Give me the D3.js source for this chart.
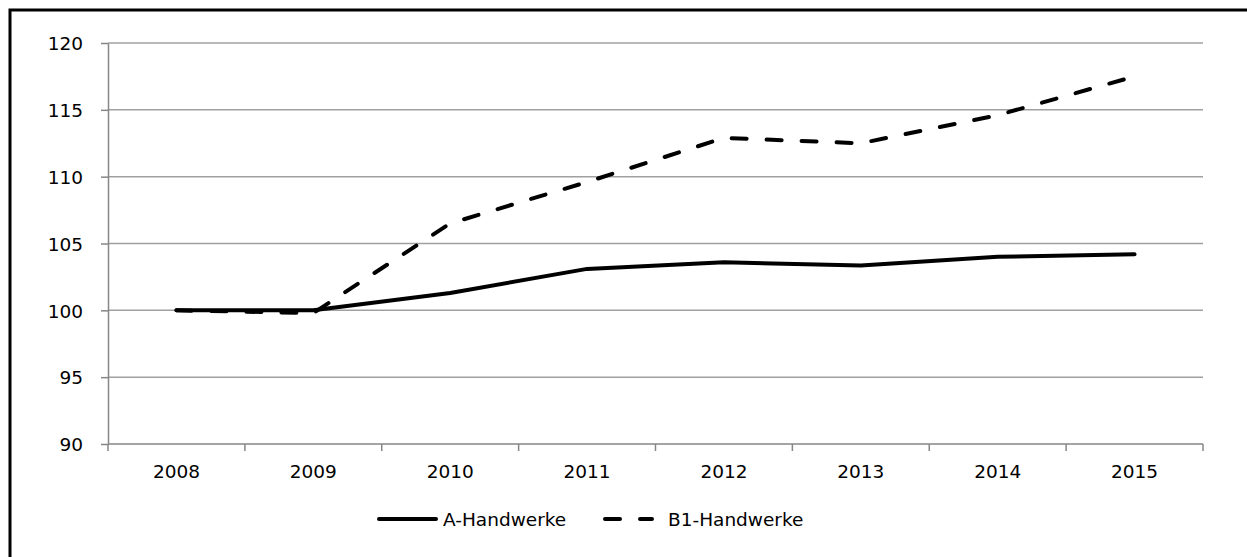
<!DOCTYPE html>
<html>
<head>
  <meta charset="utf-8">
  <style>
    body { margin: 0; background: #fff; }
    text { font-family: "DejaVu Sans", Verdana, sans-serif; font-size: 18.5px; fill: #000; }
    .grid line { stroke: #a0a0a0; stroke-width: 1.5px; }
    .axis path, .axis line { stroke: #868686; stroke-width: 1.5px; }
  </style>
  <script src="https://d3js.org/d3.v7.min.js"></script>
</head>
<body>
  <svg width="1247" height="557"></svg>
  <script>
    var years = ["2008", "2009", "2010", "2011", "2012", "2013", "2014", "2015"];
    var aHandwerke = [100, 100, 101.3, 103.1, 103.6, 103.35, 104.0, 104.2];
    var b1Handwerke = [100, 99.8, 106.5, 109.6, 112.9, 112.5, 114.6, 117.5];
    var yTicks = [90, 95, 100, 105, 110, 115, 120];

    var svg = d3.select("svg");
    var plotLeft = 108, plotRight = 1203, plotTop = 43, plotBottom = 444;

    // outer frame (only top and left edges are visible)
    svg.append("rect")
      .attr("x", 10).attr("y", 10)
      .attr("width", 1300).attr("height", 600)
      .attr("fill", "none").attr("stroke", "#000").attr("stroke-width", 3);

    var x = d3.scaleBand().domain(years).range([plotLeft, plotRight]);
    var y = d3.scaleLinear().domain([90, 120]).range([plotBottom, plotTop]);

    svg.append("g").attr("class", "grid")
      .selectAll("line")
      .data(yTicks.slice(1))
      .enter().append("line")
        .attr("x1", plotLeft).attr("x2", plotRight)
        .attr("y1", function(d) { return y(d); })
        .attr("y2", function(d) { return y(d); });

    var yAxis = svg.append("g").attr("class", "axis")
      .attr("transform", "translate(" + plotLeft + ",0)")
      .call(d3.axisLeft(y).tickValues(yTicks).tickSize(7).tickPadding(18).tickSizeOuter(0));
    yAxis.selectAll("text").attr("dy", "0.36em");

    var xAxis = svg.append("g").attr("class", "axis")
      .attr("transform", "translate(0," + plotBottom + ")")
      .call(d3.axisBottom(x).tickSize(0).tickPadding(21));
    xAxis.select(".domain").attr("d", "M" + plotLeft + ",0H" + plotRight);
    xAxis.selectAll("text").attr("dy", "0.71em");
    // tick marks between categories
    xAxis.selectAll(".sep")
      .data(d3.range(years.length + 1))
      .enter().append("line")
        .attr("class", "sep")
        .attr("x1", function(i) { return plotLeft + i * x.step(); })
        .attr("x2", function(i) { return plotLeft + i * x.step(); })
        .attr("y1", 0).attr("y2", 7);

    var line = d3.line()
      .x(function(d, i) { return x(years[i]) + x.bandwidth() / 2; })
      .y(function(d) { return y(d); });

    svg.append("path")
      .datum(aHandwerke)
      .attr("d", line)
      .attr("fill", "none").attr("stroke", "#000")
      .attr("stroke-width", 4).attr("stroke-linejoin", "round").attr("stroke-linecap", "round");

    svg.append("path")
      .datum(b1Handwerke)
      .attr("d", line)
      .attr("fill", "none").attr("stroke", "#000")
      .attr("stroke-width", 4).attr("stroke-linecap", "round")
      .attr("stroke-dasharray", "15,20");

    // legend
    var legend = svg.append("g");
    legend.append("line")
      .attr("x1", 379).attr("x2", 436).attr("y1", 519).attr("y2", 519)
      .attr("stroke", "#000").attr("stroke-width", 4).attr("stroke-linecap", "round");
    legend.append("text").attr("x", 443).attr("y", 526).text("A-Handwerke");
    legend.append("line")
      .attr("x1", 605).attr("x2", 652).attr("y1", 519).attr("y2", 519)
      .attr("stroke", "#000").attr("stroke-width", 4).attr("stroke-linecap", "round")
      .attr("stroke-dasharray", "15,20");
    legend.append("text").attr("x", 668).attr("y", 526).text("B1-Handwerke");
  </script>
</body>
</html>
